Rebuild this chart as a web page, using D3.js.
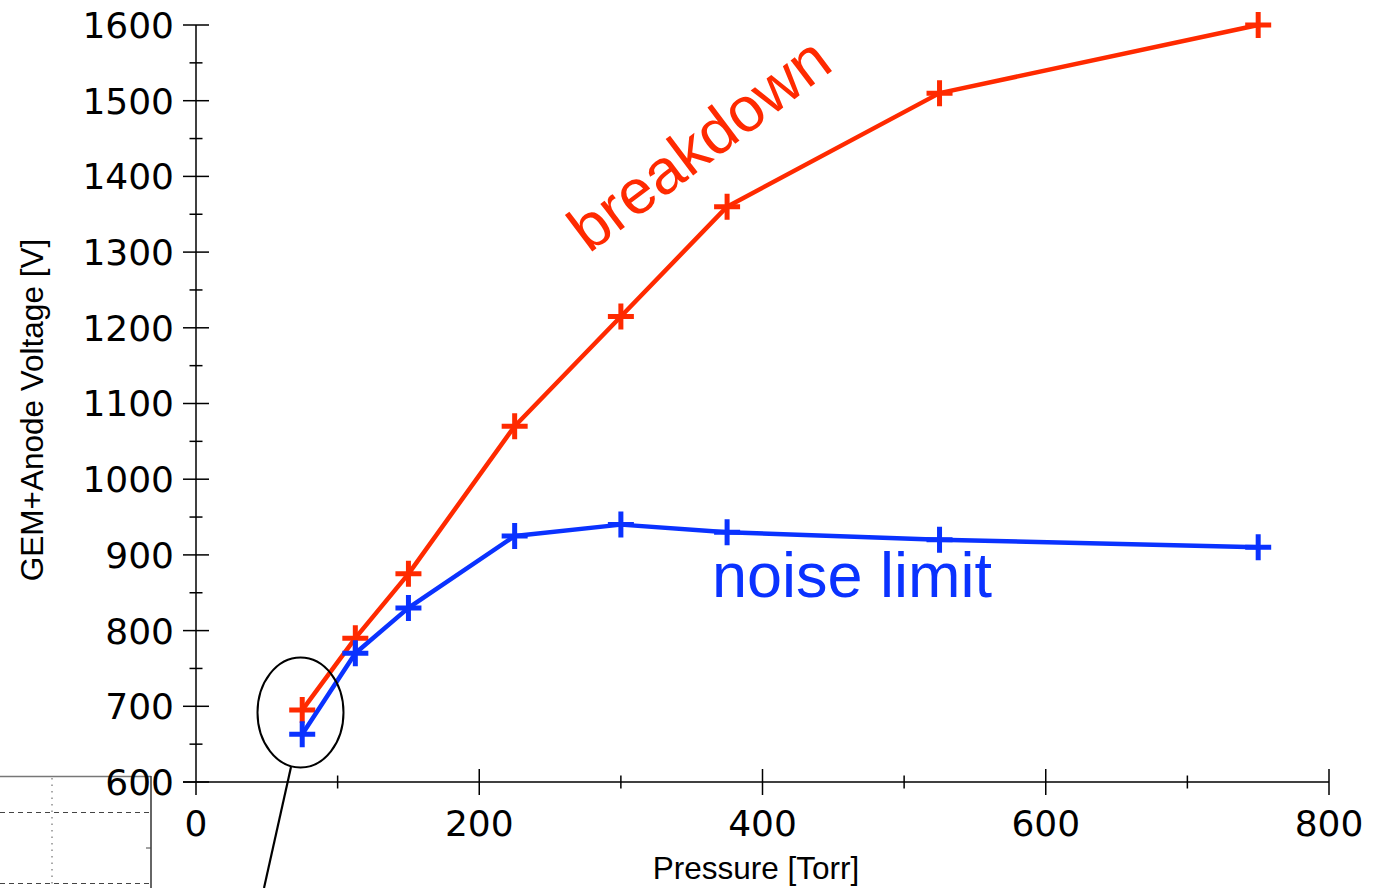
<!DOCTYPE html>
<html>
<head>
<meta charset="utf-8">
<script src="https://cdn.jsdelivr.net/npm/d3@7"></script>
<style>
  body { margin: 0; background: #fff; }
  svg { display: block; }
  .tick-label { font-family: "DejaVu Sans", sans-serif; font-size: 36px; fill: #000; }
  .axis-title { font-family: "Liberation Sans", Arial, sans-serif; font-size: 31.5px; fill: #000; }
  .note { font-family: "Liberation Sans", Arial, sans-serif; font-size: 63px; }
</style>
</head>
<body>
<div class="chart"></div>
<script>
// pressure [Torr]
var pressure = [75, 112.5, 150, 225, 300, 375, 525, 750];
// GEM+Anode voltage [V]
var breakdown = [695, 790, 875, 1070, 1215, 1360, 1510, 1600];
var noiseLimit = [663, 770, 830, 925, 940, 930, 920, 910];

var xTicks = [0, 200, 400, 600, 800];
var yTicks = [600, 700, 800, 900, 1000, 1100, 1200, 1300, 1400, 1500, 1600];

var W = 1375, H = 888;
var svg = d3.select(".chart").append("svg")
    .attr("width", W)
    .attr("height", H);

var x = d3.scaleLinear().domain([0, 800]).range([196, 1329]);
var y = d3.scaleLinear().domain([600, 1600]).range([782, 25]);

// partial inset box at bottom left
var inset = svg.append("g").attr("fill", "none");
inset.append("line").attr("x1", 0).attr("x2", 151).attr("y1", 776.5).attr("y2", 776.5)
    .attr("stroke", "#777").attr("stroke-width", 1.5);
inset.append("line").attr("x1", 151).attr("x2", 151).attr("y1", 776).attr("y2", H)
    .attr("stroke", "#333").attr("stroke-width", 1.5);
[812, 883].forEach(function(yy){
  inset.append("line").attr("x1", 0).attr("x2", 151).attr("y1", yy + 0.5).attr("y2", yy + 0.5)
      .attr("stroke", "#444").attr("stroke-width", 1).attr("stroke-dasharray", "5,4");
});
inset.append("line").attr("x1", 52).attr("x2", 52).attr("y1", 778).attr("y2", H)
    .attr("stroke", "#555").attr("stroke-width", 1).attr("stroke-dasharray", "1.5,5");
inset.append("line").attr("x1", 146).attr("x2", 151).attr("y1", 848).attr("y2", 848)
    .attr("stroke", "#444").attr("stroke-width", 1);

// axes
var ax = svg.append("g").attr("stroke", "#000").attr("stroke-width", 1.5);
ax.append("line").attr("x1", x(0)).attr("x2", x(0)).attr("y1", y(1600)).attr("y2", y(600) + 13);
ax.append("line").attr("x1", x(0) - 13).attr("x2", x(800)).attr("y1", y(600)).attr("y2", y(600));

d3.range(600, 1601, 50).forEach(function(v){
  var len = v % 100 === 0 ? 13 : 6.5;
  ax.append("line").attr("x1", x(0) - len).attr("x2", x(0) + len)
      .attr("y1", y(v)).attr("y2", y(v));
});
d3.range(100, 801, 100).forEach(function(v){
  var len = v % 200 === 0 ? 13 : 6.5;
  ax.append("line").attr("x1", x(v)).attr("x2", x(v))
      .attr("y1", y(600) - len).attr("y2", y(600) + len);
});

svg.selectAll(".ylab").data(yTicks).enter().append("text")
    .attr("class", "tick-label")
    .attr("x", 174)
    .attr("y", function(d){ return y(d); })
    .attr("dy", "0.36em")
    .attr("text-anchor", "end")
    .text(function(d){ return d; });

svg.selectAll(".xlab").data(xTicks).enter().append("text")
    .attr("class", "tick-label")
    .attr("x", function(d){ return x(d); })
    .attr("y", 836)
    .attr("text-anchor", "middle")
    .text(function(d){ return d; });

svg.append("text").attr("class", "axis-title")
    .attr("x", 756).attr("y", 879)
    .attr("text-anchor", "middle")
    .text("Pressure [Torr]");

svg.append("text").attr("class", "axis-title")
    .attr("transform", "translate(43,410) rotate(-90)")
    .attr("text-anchor", "middle")
    .text("GEM+Anode Voltage [V]");

// series
var series = [
  {name: "breakdown", values: breakdown, color: "#ff2a00"},
  {name: "noise", values: noiseLimit, color: "#0a32ff"}
];

var line = d3.line()
    .x(function(d){ return x(d[0]); })
    .y(function(d){ return y(d[1]); });

series.forEach(function(s){
  var pts = pressure.map(function(p, i){ return [p, s.values[i]]; });
  svg.append("path")
      .datum(pts)
      .attr("d", line)
      .attr("fill", "none")
      .attr("stroke", s.color)
      .attr("stroke-width", 4.5)
      .attr("stroke-linejoin", "round");
  svg.append("g").selectAll("path").data(pts).enter().append("path")
      .attr("d", function(d){
        var cx = x(d[0]), cy = y(d[1]);
        return "M" + (cx - 13) + "," + cy + "H" + (cx + 13) + "M" + cx + "," + (cy - 13) + "V" + (cy + 13);
      })
      .attr("stroke", s.color)
      .attr("stroke-width", 5);
});

// labels
svg.append("text").attr("class", "note")
    .attr("transform", "translate(589,254) rotate(-37)")
    .attr("fill", "#ff2a00")
    .text("breakdown");

svg.append("text").attr("class", "note")
    .attr("x", 712).attr("y", 597)
    .attr("fill", "#0a32ff")
    .text("noise limit");

// circled low-pressure point with pointer
svg.append("ellipse")
    .attr("cx", 300.5).attr("cy", 712.5)
    .attr("rx", 43).attr("ry", 55)
    .attr("fill", "none").attr("stroke", "#000").attr("stroke-width", 2);
svg.append("line")
    .attr("x1", 291).attr("y1", 767).attr("x2", 264).attr("y2", H)
    .attr("stroke", "#000").attr("stroke-width", 2.2);
</script>
</body>
</html>
